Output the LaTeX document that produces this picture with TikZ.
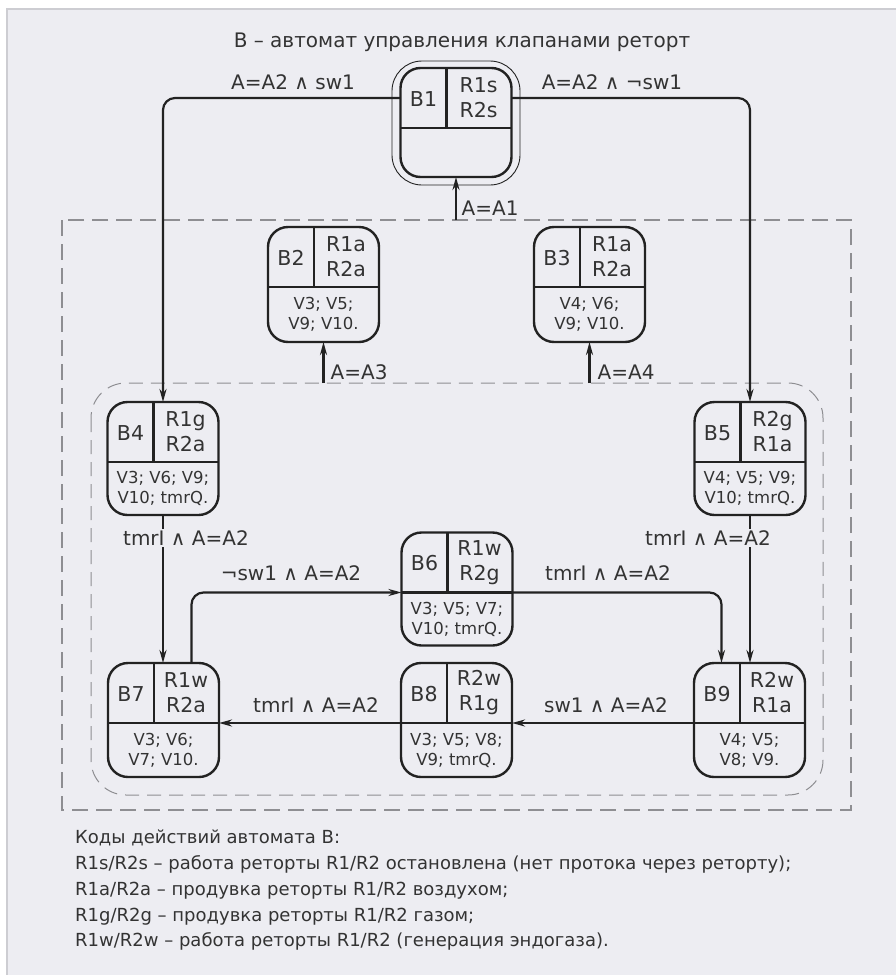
\documentclass[tikz,border=0pt]{standalone}
\usepackage{fontspec}
\setmainfont{DejaVu Sans}
\usetikzlibrary{arrows.meta,calc}
\definecolor{bgc}{HTML}{EDEDF2}
\definecolor{framec}{HTML}{CDCDD2}
\definecolor{linec}{HTML}{222222}
\definecolor{txtc}{HTML}{333333}
\definecolor{dashc}{HTML}{8E8E92}
\tikzset{
  stbox/.style={draw=linec, line width=2.4pt, rounded corners=20pt, minimum width=111pt, outer sep=0pt, inner sep=0pt},
  divider/.style={draw=linec, line width=2.4pt},
  bigtxt/.style={text=txtc, font=\fontsize{20.5}{25}\selectfont, align=center, inner sep=0pt},
  smalltxt/.style={text=txtc, font=\fontsize{16.5}{20}\selectfont, align=center, inner sep=0pt},
  edge/.style={draw=linec, line width=2.2pt, rounded corners=12pt, -{Stealth[length=13pt,width=7pt]}},
  elabel/.style={text=txtc, font=\fontsize{20}{23}\selectfont, fill=bgc, inner sep=1.5pt},
  legtxt/.style={text=txtc, font=\fontsize{18}{26}\selectfont, anchor=base west, inner sep=0pt},
  titletxt/.style={text=txtc, font=\fontsize{20}{24}\selectfont, anchor=base, inner sep=0pt},
  outerdash/.style={draw=dashc, line width=1.8pt, dash pattern=on 16pt off 8pt},
  innerdash/.style={draw=dashc, line width=1pt, dash pattern=on 14pt off 8pt, rounded corners=35pt},
  ring/.style={draw=linec, line width=0.9pt, rounded corners=30pt, minimum width=128pt, minimum height=124pt, outer sep=0pt, inner sep=0pt}
}
% #1 name, #2 x, #3 y, #4 height, #5 id, #6 R line 1, #7 R line 2, #8 small text
\newcommand{\stnode}[8]{%
  \node[stbox, minimum height=#4pt] (#1) at (#2,#3) {};
  \path (#1.north west) ++(0,60) coordinate (#1-dl);
  \path (#1.north east) ++(0,60) coordinate (#1-dr);
  \path (#1.north west) ++(0,30) coordinate (#1-l);
  \path (#1.north east) ++(0,30) coordinate (#1-r);
  \path (#1.north west) ++(46,0) coordinate (#1-vt);
  \draw[divider] (#1-dl) -- (#1-dr);
  \draw[divider] (#1-vt) -- ++(0,60);
  \node[bigtxt] (#1-id) at ($(#1.north west)+(23,31)$) {#5};
  \node[bigtxt] (#1-rr) at ($(#1.north west)+(78,30)$) {#6\\#7};
  \node[smalltxt] (#1-vv) at ($(#1-dl)!0.5!(#1.south east)$) {#8};
}
\begin{document}
\begin{tikzpicture}[x=1pt,y=-1pt]
\useasboundingbox (0,0) rectangle (896,975);
\fill[bgc] (7,9) rectangle (896,975);
\draw[framec, line width=2pt] (7,975) -- (7,9) -- (896,9);

\node[titletxt] (title) at (462,47) {В – автомат управления клапанами реторт};

% group frames
\draw[outerdash] (62,220) rectangle (851,810);
\draw[innerdash] (91,383) rectangle (823,795);

% states
\node[ring] (B1ring) at (456,123) {};
\stnode{B1}{456}{122.5}{109}{B1}{R1s}{R2s}{}
\stnode{B2}{323.5}{284.5}{115}{B2}{R1a}{R2a}{V3; V5;\\V9; V10.}
\stnode{B3}{589.5}{284.5}{115}{B3}{R1a}{R2a}{V4; V6;\\V9; V10.}
\stnode{B4}{163}{458.5}{113}{B4}{R1g}{R2a}{V3; V6; V9;\\V10; tmrQ.}
\stnode{B5}{750}{458.5}{113}{B5}{R2g}{R1a}{V4; V5; V9;\\V10; tmrQ.}
\stnode{B6}{457}{589}{113}{B6}{R1w}{R2g}{V3; V5; V7;\\V10; tmrQ.}
\stnode{B7}{163.5}{720}{114}{B7}{R1w}{R2a}{V3; V6;\\V7; V10.}
\stnode{B8}{456.5}{720}{114}{B8}{R2w}{R1g}{V3; V5; V8;\\V9; tmrQ.}
\stnode{B9}{749.5}{720}{114}{B9}{R2w}{R1a}{V4; V5;\\V8; V9.}

% free ends on the frames
\coordinate (inA1) at (456,220);
\coordinate (inA3) at (323.5,383);
\coordinate (inA4) at (589.5,383);

% connectors
\draw[edge] (B1-l) -| (B4.north);
\draw[edge] (B1-r) -| (B5.north);
\draw[edge] (inA1) -- (B1.south);
\draw[edge] (inA3) -- (B2.south);
\draw[edge] (inA4) -- (B3.south);
\draw[edge] (B4.south) -- (B4.south |- B7.north);
\draw[edge] (B5.south) -- (B5.south |- B9.north);
\draw[edge] ([xshift=28pt]B7.north) |- (B6-dl);
\draw[edge] (B6-dr) -| ([xshift=-28pt]B9.north);
\draw[edge] (B9-dl) -- (B8-dr);
\draw[edge] (B8-dl) -- (B7-dr);

% connector labels
\node[elabel] (l1) at (293,82) {A=A2 ∧ sw1};
\node[elabel] (l2) at (612,82) {A=A2 ∧ ¬sw1};
\node[elabel, anchor=west, fill=none] (l3) at (460,208) {A=A1};
\node[elabel, anchor=west, fill=none] (l4) at (329,372) {A=A3};
\node[elabel, anchor=west, fill=none] (l5) at (596,372) {A=A4};
\node[elabel] (l6) at (186,538) {tmrI ∧ A=A2};
\node[elabel] (l7) at (708,538) {tmrI ∧ A=A2};
\node[elabel] (l8) at (291,573) {¬sw1 ∧ A=A2};
\node[elabel] (l9) at (608,573) {tmrI ∧ A=A2};
\node[elabel] (l10) at (606,705) {sw1 ∧ A=A2};
\node[elabel] (l11) at (316,705) {tmrI ∧ A=A2};

% legend
\node[legtxt] (leg1) at (75,843) {Коды действий автомата В:};
\node[legtxt] (leg2) at (75,869) {R1s/R2s – работа реторты R1/R2 остановлена (нет протока через реторту);};
\node[legtxt] (leg3) at (75,895) {R1a/R2a – продувка реторты R1/R2 воздухом;};
\node[legtxt] (leg4) at (75,921) {R1g/R2g – продувка реторты R1/R2 газом;};
\node[legtxt] (leg5) at (75,946) {R1w/R2w – работа реторты R1/R2 (генерация эндогаза).};
\end{tikzpicture}
\end{document}
